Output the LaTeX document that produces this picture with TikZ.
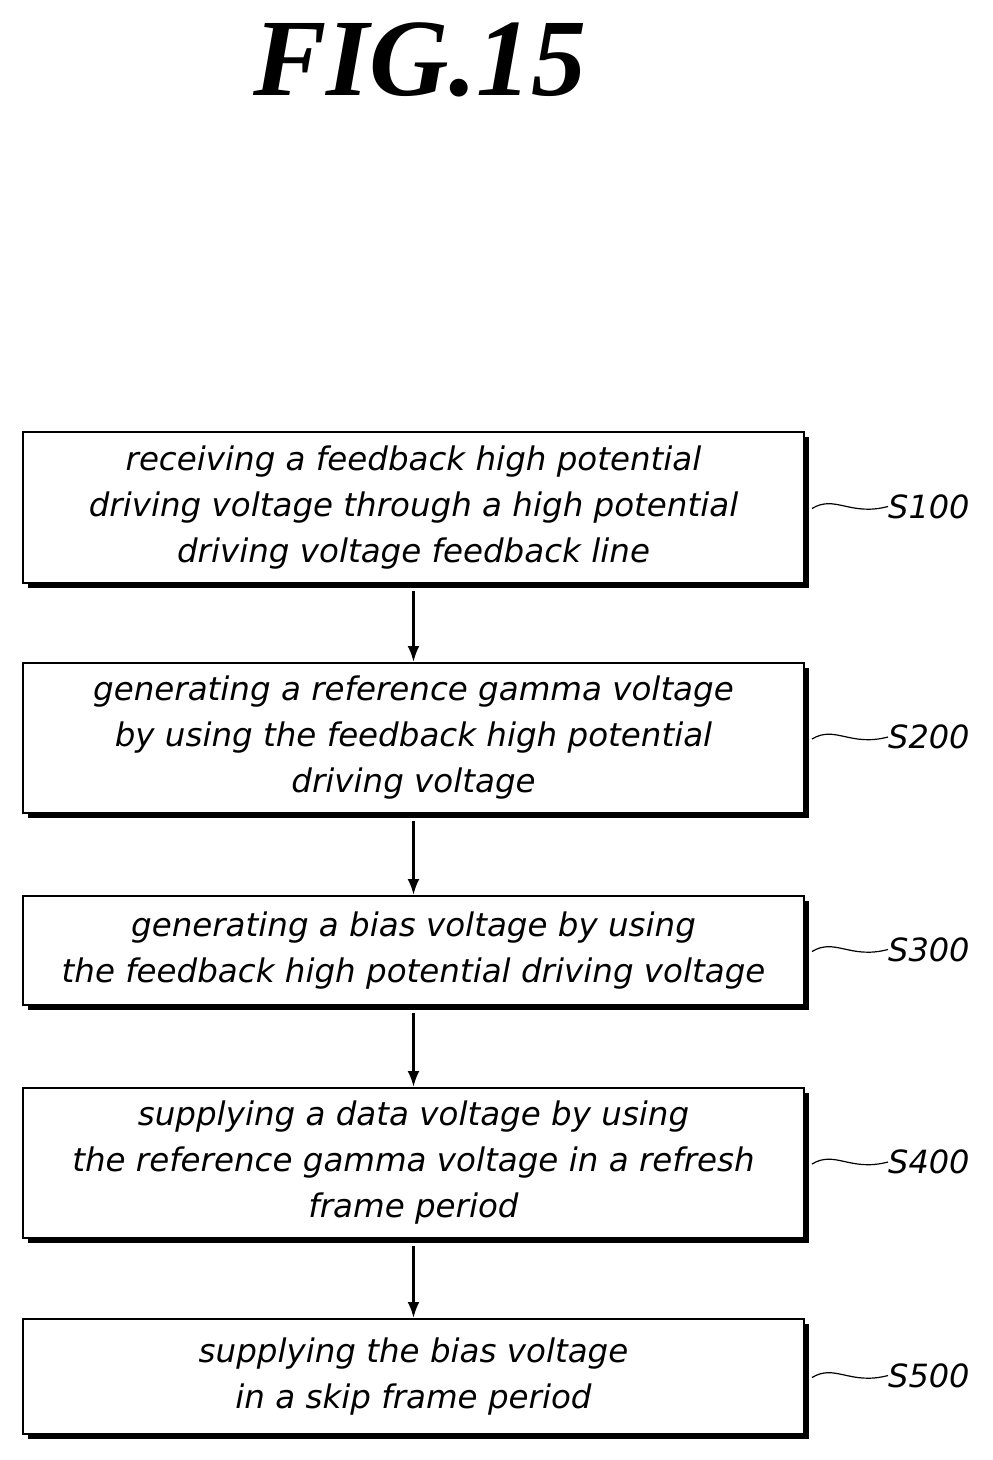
\documentclass[tikz,border=0pt]{standalone}
\usetikzlibrary{arrows.meta}
\usepackage{fontspec}
\setmainfont{DejaVu Sans}
\newfontfamily\titlefont{Liberation Serif}
\begin{document}
\begin{tikzpicture}[x=1pt,y=-1pt,
  stepbox/.style={draw,line width=2pt,minimum width=781pt,anchor=north west,align=center,inner sep=0pt,
    font=\fontsize{32.5}{46}\selectfont\itshape},
  lbl/.style={anchor=west,font=\fontsize{32}{36}\selectfont\itshape,inner sep=0pt},
  arr/.style={-{Latex[length=16pt,width=12pt]},line width=2.5pt}]
\useasboundingbox (0,0) rectangle (993,1460);
\node[font=\titlefont\fontsize{110}{116}\selectfont\itshape\bfseries] (title) at (420,60) {FIG.15};
\def\B#1#2#3#4#5{%
  \fill (28,#2+6) rectangle (809,#3+6);
  \node[stepbox,fill=white,minimum height=#3-#2] (#1) at (22,#2) {#4};
  \node[lbl] (#1l) at (888,#2/2+#3/2) {#5};
  \draw[line width=1.2pt] (812,#2/2+#3/2+2) .. controls (835,#2/2+#3/2-12) and (850,#2/2+#3/2+10) .. (#1l.west);
}
\B{b1}{431}{582}{receiving a feedback high potential\\driving voltage through a high potential\\driving voltage feedback line}{S100}
\B{b2}{662}{812}{generating a reference gamma voltage\\by using the feedback high potential\\driving voltage}{S200}
\B{b3}{895}{1004}{generating a bias voltage by using\\the feedback high potential driving voltage}{S300}
\B{b4}{1087}{1237}{supplying a data voltage by using\\the reference gamma voltage in a refresh\\frame period}{S400}
\B{b5}{1318}{1433}{supplying the bias voltage\\in a skip frame period}{S500}
\draw[arr] ([yshift=-7pt]b1.south) -- (b2.north);
\draw[arr] ([yshift=-7pt]b2.south) -- (b3.north);
\draw[arr] ([yshift=-7pt]b3.south) -- (b4.north);
\draw[arr] ([yshift=-7pt]b4.south) -- (b5.north);
\end{tikzpicture}
\end{document}
